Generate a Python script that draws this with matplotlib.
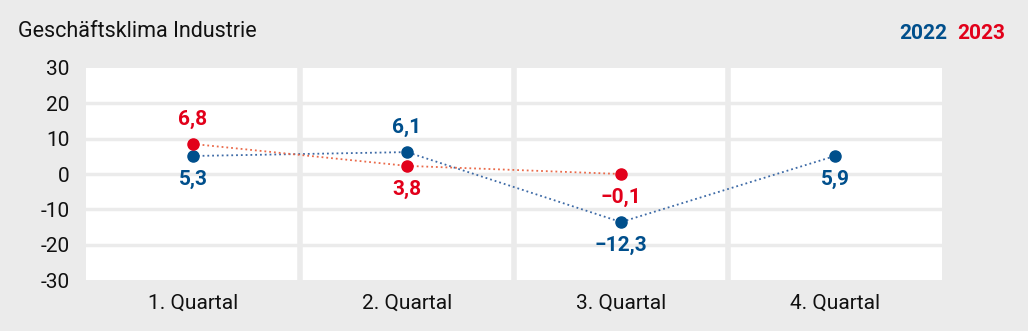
import matplotlib.pyplot as plt

plt.rcParams['font.family'] = ['Roboto', 'DejaVu Sans']

quarters = ['1. Quartal', '2. Quartal', '3. Quartal', '4. Quartal']
# positions of the points as drawn in the picture
y2022 = [5.1, 6.2, -13.6, 5.1]
y2023 = [8.5, 2.3, 0.0]
# printed values
lab2022 = ['5,3', '6,1', '\u221212,3', '5,9']
lab2023 = ['6,8', '3,8', '\u22120,1']
pos2022 = ['below', 'above', 'below', 'below']
pos2023 = ['above', 'below', 'below']
yticks = [-30, -20, -10, 0, 10, 20, 30]

blue = '#004f8c'
red = '#e2001a'
bg = '#ebebeb'

fig = plt.figure(figsize=(10.28, 3.31), dpi=100, facecolor=bg)
ax = fig.add_axes([0.0837, 0.154, 0.8326, 0.6406])
ax.set_facecolor('white')

x = list(range(len(quarters)))
ax.plot(x, y2022, ls=':', color='#3d6aa6', lw=1.3, zorder=3)
ax.plot(x[:len(y2023)], y2023, ls=':', color='#ea6a4a', lw=1.3, zorder=3)
ax.plot(x, y2022, 'o', color=blue, ms=8, zorder=4)
ax.plot(x[:len(y2023)], y2023, 'o', color=red, ms=8, zorder=4)

def label(xs, ys, labs, where, col):
    for xi, yi, t, w in zip(xs, ys, labs, where):
        dy = 18 if w == 'above' else -17
        ax.annotate(t, (xi, yi), xytext=(0, dy), textcoords='offset points',
                    ha='center', va='center', color=col, fontsize=15,
                    fontweight='bold')

label(x, y2022, lab2022, pos2022, blue)
label(x[:len(y2023)], y2023, lab2023, pos2023, red)

ax.set_xlim(-0.5, 3.5)
ax.set_ylim(-30, 30)
ax.set_yticks(yticks)
ax.set_yticklabels([str(v) for v in yticks])
ax.set_xticks(x)
ax.set_xticklabels(quarters)
ax.tick_params(length=0, labelsize=15, colors='#111111')
ax.tick_params(axis='y', pad=12)
ax.tick_params(axis='x', pad=10)
for s in ax.spines.values():
    s.set_visible(False)
for v in yticks[1:-1]:
    ax.axhline(v, color=bg, lw=2.5, zorder=1)
for v in [0.5, 1.5, 2.5]:
    ax.axvline(v, color=bg, lw=4, zorder=1)

fig.text(0.0175, 0.905, 'Geschäftsklima Industrie', fontsize=15.5,
         color='#111111', va='center', ha='left')
fig.text(0.921, 0.9, '2022', color=blue, fontsize=15, fontweight='bold',
         ha='right', va='center')
fig.text(0.931, 0.9, '2023', color=red, fontsize=15, fontweight='bold',
         ha='left', va='center')

fig.savefig('out.png', dpi=100, facecolor=bg)
